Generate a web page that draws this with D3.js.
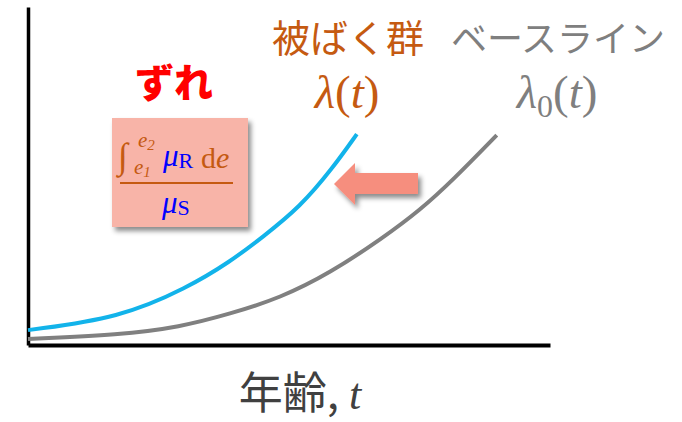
<!DOCTYPE html>
<html lang="ja">
<head>
<meta charset="UTF-8">
<title>ずれ</title>
<script src="https://d3js.org/d3.v7.min.js"></script>
<style>
    body { margin: 0; background: #fff; }
    .jp { font-family: "Noto Sans CJK JP", sans-serif; }
    .math { font-family: "Liberation Serif", "DejaVu Serif", serif; }
</style>
</head>
<body>
<div id="chart"></div>
<script>
// curve values (age 0-100, hazard 0-100)
const exposedAge = [0, 17.6, 30.5, 38.7, 45.0, 52.1, 58.4, 63.0];
const exposedHaz = [4.4, 8.0, 16.9, 24.6, 32.0, 40.8, 52.4, 62.4];
const baseAge = [0, 17.6, 29.1, 38.7, 48.3, 57.9, 68.0, 75.1, 81.4, 89.8];
const baseHaz = [1.8, 3.0, 5.3, 9.2, 13.9, 21.3, 31.7, 39.9, 48.8, 62.1];

const width = 682, height = 422;
const margin = { top: 7, right: 132, bottom: 77, left: 28 };

const x = d3.scaleLinear().domain([0, 100]).range([margin.left, width - margin.right]);
const y = d3.scaleLinear().domain([0, 100]).range([height - margin.bottom, margin.top]);

const svg = d3.select("#chart").append("svg")
    .attr("width", width)
    .attr("height", height);

const defs = svg.append("defs");
defs.append("filter").attr("id", "shadow")
    .attr("x", "-20%").attr("y", "-20%").attr("width", "150%").attr("height", "150%")
    .append("feDropShadow")
    .attr("dx", 3).attr("dy", 4).attr("stdDeviation", 2.5)
    .attr("flood-color", "#000").attr("flood-opacity", 0.45);

// axes, no ticks
svg.append("g")
    .attr("transform", "translate(" + margin.left + ",0)")
    .call(d3.axisLeft(y).ticks(0).tickSizeOuter(0))
    .select(".domain").attr("stroke", "#000").attr("stroke-width", 3.5);
svg.append("g")
    .attr("transform", "translate(0," + (height - margin.bottom) + ")")
    .call(d3.axisBottom(x).ticks(0).tickSizeOuter(0))
    .select(".domain").attr("stroke", "#000").attr("stroke-width", 4);

const line = d3.line()
    .x(d => x(d[0]))
    .y(d => y(d[1]))
    .curve(d3.curveBasis);

svg.append("path")
    .datum(baseAge.map((a, i) => [a, baseHaz[i]]))
    .attr("d", line)
    .attr("fill", "none")
    .attr("stroke", "#808080")
    .attr("stroke-width", 4);

svg.append("path")
    .datum(exposedAge.map((a, i) => [a, exposedHaz[i]]))
    .attr("d", line)
    .attr("fill", "none")
    .attr("stroke", "#12B3EA")
    .attr("stroke-width", 4);

// shift arrow
svg.append("polygon")
    .attr("points", "334,184 355,163 355,173 418,173 418,194 355,194 355,205")
    .attr("fill", "#F68E7E")
    .attr("filter", "url(#shadow)");

// formula box
svg.append("rect")
    .attr("x", 112).attr("y", 118).attr("width", 136).attr("height", 109)
    .attr("fill", "#F8B4A8")
    .attr("filter", "url(#shadow)");

const orange = "#C55A11", blue = "#0000FF";
const f = svg.append("g").attr("class", "math");
f.append("text").attr("x", 118).attr("y", 168).attr("font-size", 36)
    .attr("font-style", "italic").attr("fill", orange).text("∫");
f.append("text").attr("x", 138).attr("y", 147).attr("font-size", 21)
    .attr("font-style", "italic").attr("fill", orange)
    .call(t => { t.append("tspan").text("e"); t.append("tspan").attr("font-size", 15).attr("dy", 3).text("2"); });
f.append("text").attr("x", 134).attr("y", 174).attr("font-size", 21)
    .attr("font-style", "italic").attr("fill", orange)
    .call(t => { t.append("tspan").text("e"); t.append("tspan").attr("font-size", 15).attr("dy", 3).text("1"); });
f.append("text").attr("x", 163).attr("y", 166).attr("font-size", 31)
    .attr("fill", blue)
    .call(t => {
        t.append("tspan").attr("font-style", "italic").text("μ");
        t.append("tspan").attr("font-size", 22).attr("dy", 2).text("R");
    });
f.append("text").attr("x", 201).attr("y", 168).attr("font-size", 30)
    .attr("fill", orange)
    .call(t => {
        t.append("tspan").text("d");
        t.append("tspan").attr("font-style", "italic").text("e");
    });
f.append("line").attr("x1", 120).attr("x2", 233).attr("y1", 183).attr("y2", 183)
    .attr("stroke", orange).attr("stroke-width", 1.8);
f.append("text").attr("x", 162).attr("y", 213).attr("font-size", 31)
    .attr("fill", blue)
    .call(t => {
        t.append("tspan").attr("font-style", "italic").text("μ");
        t.append("tspan").attr("font-size", 22).attr("dy", 2).text("S");
    });

// labels
svg.append("text").attr("class", "jp")
    .attr("x", 174).attr("y", 97).attr("text-anchor", "middle")
    .attr("font-size", 39).attr("font-weight", 900).attr("fill", "#FF0000")
    .text("ずれ");

svg.append("text").attr("class", "jp")
    .attr("x", 348).attr("y", 52).attr("text-anchor", "middle")
    .attr("font-size", 38).attr("fill", orange)
    .text("被ばく群");
svg.append("text").attr("class", "math")
    .attr("x", 347).attr("y", 108).attr("text-anchor", "middle")
    .attr("font-size", 47).attr("fill", orange)
    .call(t => {
        t.append("tspan").attr("font-style", "italic").text("λ");
        t.append("tspan").text("(");
        t.append("tspan").attr("font-style", "italic").text("t");
        t.append("tspan").text(")");
    });

svg.append("text").attr("class", "jp")
    .attr("x", 558).attr("y", 52).attr("text-anchor", "middle")
    .attr("font-size", 36).attr("fill", "#7F7F7F")
    .text("ベースライン");
svg.append("text").attr("class", "math")
    .attr("x", 557).attr("y", 108).attr("text-anchor", "middle")
    .attr("font-size", 47).attr("fill", "#7F7F7F")
    .call(t => {
        t.append("tspan").attr("font-style", "italic").text("λ");
        t.append("tspan").attr("font-size", 32).attr("dy", 9).text("0");
        t.append("tspan").attr("dy", -9).text("(");
        t.append("tspan").attr("font-style", "italic").text("t");
        t.append("tspan").text(")");
    });

svg.append("text").attr("class", "jp")
    .attr("x", 300).attr("y", 409).attr("text-anchor", "middle")
    .attr("font-size", 44).attr("fill", "#404040")
    .call(t => {
        t.append("tspan").text("年齢, ");
        t.append("tspan").attr("class", "math").attr("font-style", "italic").text("t");
    });
</script>
</body>
</html>
